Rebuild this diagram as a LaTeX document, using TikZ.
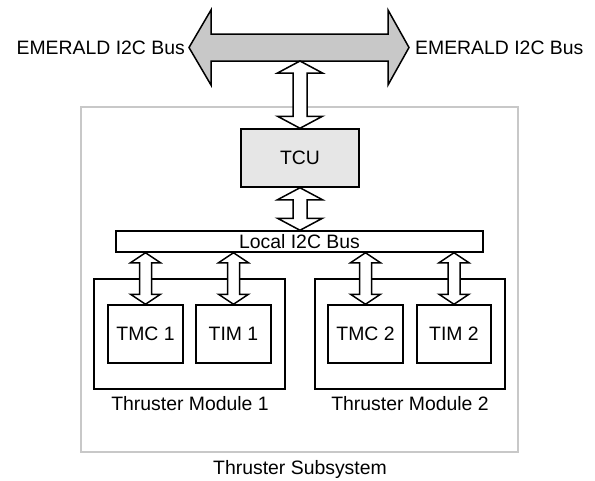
\documentclass[tikz,border=0pt]{standalone}
\usepackage{fontspec}
\setmainfont{Liberation Sans}
\usetikzlibrary{calc}
\definecolor{framegray}{HTML}{C8C8C8}
\definecolor{busfill}{HTML}{C8C8C8}
\definecolor{tcufill}{HTML}{E6E6E6}
\tikzset{
  box/.style={draw=black, line width=1.5pt, inner sep=0pt, fill=white},
  lbl/.style={inner sep=0pt, font=\fontsize{19.4}{22}\selectfont},
  blockarrow/.style={draw=black, line width=1.5pt, fill=white, line join=miter},
}
% vertical double block arrow between two points (#1 top, #2 bottom), half head #3, half shaft #4, head length #5
\newcommand\vdblarrow[5]{%
  \filldraw[blockarrow] let \p1=(#1), \p2=(#2) in
    (\x1,\y1) -- (\x1+#3,\y1-#5) -- (\x1+#4,\y1-#5) -- (\x1+#4,\y2+#5) -- (\x1+#3,\y2+#5) --
    (\x1,\y2) -- (\x1-#3,\y2+#5) -- (\x1-#4,\y2+#5) -- (\x1-#4,\y1-#5) -- (\x1-#3,\y1-#5) -- cycle;}
\begin{document}
\begin{tikzpicture}[x=1pt,y=-1pt]
\useasboundingbox (0,0) rectangle (595,480);
% subsystem frame
\node[draw=framegray, line width=2pt, minimum width=437pt, minimum height=345pt, inner sep=0pt] (sub) at (299.5,279.5) {};
\node[lbl] (sublbl) at (300,469) {Thruster Subsystem};
% EMERALD bus (big double arrow)
\coordinate (busL) at (189,47.5);
\coordinate (busR) at (409,47.5);
\coordinate (busS) at (300,61);
\filldraw[blockarrow, fill=busfill]
  (busL) -- (211,10) -- (211,34) -- (388,34) -- (388,10) -- (busR) -- (388,85) -- (388,61) -- (211,61) -- (211,85) -- cycle;
\node[lbl, anchor=east] (emL) at ($(busL)+(-4,0)$) {EMERALD I2C Bus};
\node[lbl, anchor=west] (emR) at ($(busR)+(6,0)$) {EMERALD I2C Bus};
% TCU
\node[box, fill=tcufill, minimum width=118pt, minimum height=58pt] (tcu) at (300,158) {\fontsize{19.4}{22}\selectfont TCU};
% Local bus
\node[box, minimum width=367pt, minimum height=21pt] (lbus) at (299.5,241.5) {\fontsize{19.4}{22}\selectfont Local I2C Bus};
% modules
\node[box, minimum width=191pt, minimum height=110pt] (m1) at (189.5,334) {};
\node[box, minimum width=190pt, minimum height=110pt] (m2) at (410,334) {};
\node[lbl] (m1lbl) at (190,404) {Thruster Module 1};
\node[lbl] (m2lbl) at (410,404) {Thruster Module 2};
\node[box, minimum width=75pt, minimum height=58pt] (tmc1) at (145.5,334) {\fontsize{19.4}{22}\selectfont TMC 1};
\node[box, minimum width=75pt, minimum height=58pt] (tim1) at (233.5,334) {\fontsize{19.4}{22}\selectfont TIM 1};
\node[box, minimum width=75pt, minimum height=58pt] (tmc2) at (365.5,334) {\fontsize{19.4}{22}\selectfont TMC 2};
\node[box, minimum width=74pt, minimum height=58pt] (tim2) at (454,334) {\fontsize{19.4}{22}\selectfont TIM 2};
% connectors
\vdblarrow{busS}{tcu.north}{22.5pt}{7pt}{12pt}
\vdblarrow{tcu.south}{lbus.north}{22.5pt}{7pt}{12pt}
\vdblarrow{lbus.south -| tmc1.north}{tmc1.north}{15pt}{6pt}{10pt}
\vdblarrow{lbus.south -| tim1.north}{tim1.north}{15pt}{6pt}{10pt}
\vdblarrow{lbus.south -| tmc2.north}{tmc2.north}{15pt}{6pt}{10pt}
\vdblarrow{lbus.south -| tim2.north}{tim2.north}{15pt}{6pt}{10pt}
\end{tikzpicture}
\end{document}
